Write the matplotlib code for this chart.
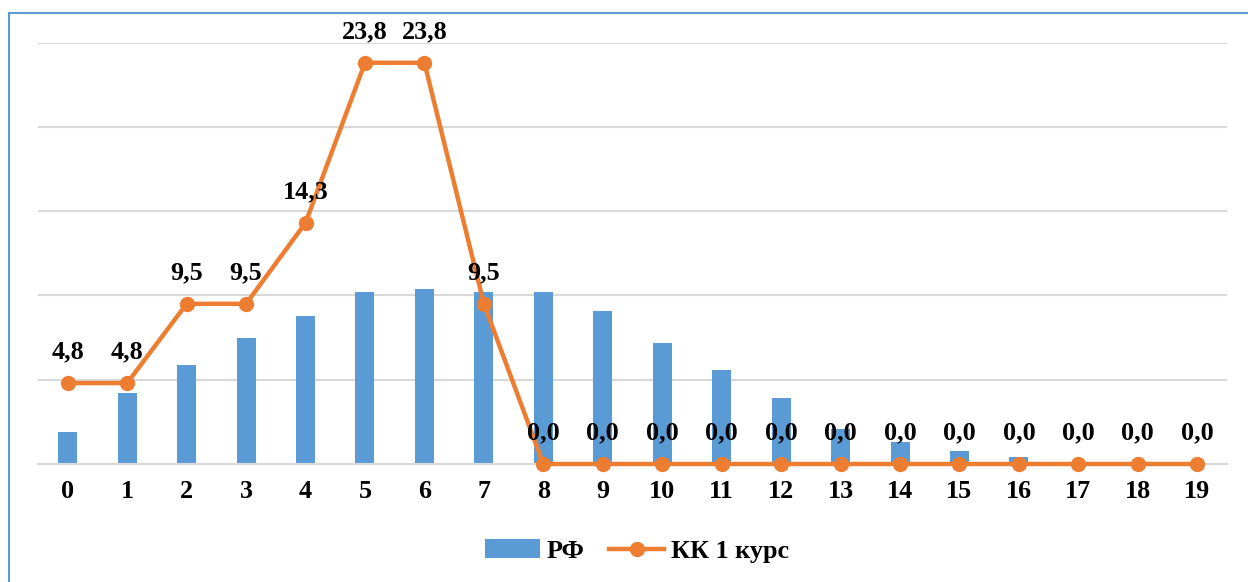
import matplotlib
matplotlib.use("Agg")
import matplotlib.pyplot as plt
from matplotlib.patches import Rectangle
from matplotlib.lines import Line2D
from matplotlib.patches import Patch

categories = [str(i) for i in range(20)]
rf_values = [1.9, 4.2, 5.9, 7.5, 8.8, 10.2, 10.4, 10.2, 10.2, 9.1,
             7.2, 5.6, 3.9, 2.1, 1.3, 0.8, 0.4, 0.1, 0.05, 0.02]
kk_values = [4.8, 4.8, 9.5, 9.5, 14.3, 23.8, 23.8, 9.5, 0.0, 0.0,
             0.0, 0.0, 0.0, 0.0, 0.0, 0.0, 0.0, 0.0, 0.0, 0.0]
series_names = ["РФ", "КК 1 курс"]

BLUE = "#5B9BD5"
ORANGE = "#ED7D31"
GRID = "#D9D9D9"
FONT = "Liberation Serif"
FS = 18.8

fig = plt.figure(figsize=(12.48, 5.82), dpi=100)
W, H = 1248, 582

# chart frame (only left and top edges visible)
fig.patches.append(Rectangle((9 / W, -0.1), 1.2, (H - 13) / H + 0.1,
                             transform=fig.transFigure, fill=False,
                             edgecolor=BLUE, linewidth=1.5, zorder=0))

ax = fig.add_axes([38 / W, (H - 464) / H, (1227 - 38) / W, (464 - 42.5) / H])
x = list(range(len(categories)))
ax.bar(x, rf_values, width=0.32, color=BLUE, zorder=2)
ax.plot(x, kk_values, color=ORANGE, linewidth=3.2, marker="o",
        markersize=10, zorder=3, clip_on=False)

for xi, v in zip(x, kk_values):
    ax.annotate(f"{v:.1f}".replace(".", ","), (xi, v), xytext=(0, 22.5),
                textcoords="offset points", ha="center", va="center",
                fontsize=FS, fontweight="bold", family=FONT, zorder=4)

ax.set_xlim(-0.5, 19.5)
ax.set_ylim(0, 25)
ax.set_yticks([0, 5, 10, 15, 20, 25])
ax.yaxis.grid(True, color=GRID, linewidth=1.5, zorder=0)
ax.set_axisbelow(True)
ax.tick_params(axis="y", left=False, labelleft=False)
ax.tick_params(axis="x", bottom=False, pad=8)
ax.set_xticks(x)
ax.set_xticklabels(categories, fontsize=FS, fontweight="bold", family=FONT)
for s in ["top", "right", "left"]:
    ax.spines[s].set_visible(False)
ax.spines["bottom"].set_color(GRID)
ax.spines["bottom"].set_linewidth(1.5)

handles = [Patch(facecolor=BLUE, edgecolor="none"),
           Line2D([0], [0], color=ORANGE, linewidth=3.2, marker="o", markersize=10)]
fig.legend(handles, series_names, loc="center", bbox_to_anchor=(637 / W, (H - 551) / H),
           ncol=2, frameon=False, prop={"family": FONT, "weight": "bold", "size": FS},
           handlelength=2.1, handleheight=0.75, handletextpad=0.25, columnspacing=0.95)

fig.savefig("out.png", dpi=100)
